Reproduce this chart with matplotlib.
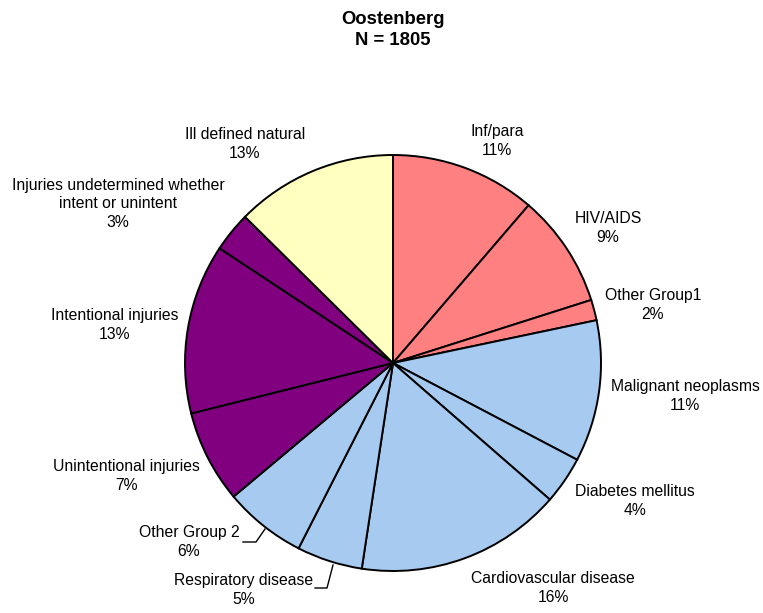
import matplotlib
matplotlib.use("Agg")
import matplotlib.pyplot as plt

title = "Oostenberg"
n_total = 1805
categories = ["Inf/para", "HIV/AIDS", "Other Group1", "Malignant neoplasms",
              "Diabetes mellitus", "Cardiovascular disease", "Respiratory disease",
              "Other Group 2", "Unintentional injuries", "Intentional injuries",
              "Injuries undetermined whether\nintent or unintent", "Ill defined natural"]
values = [11.3, 8.8, 1.6, 11.0, 3.7, 16.0, 5.1, 6.4, 7.2, 13.2, 3.1, 12.6]
colors = ["#FF8080", "#FF8080", "#FF8080", "#A6CAF0", "#A6CAF0", "#A6CAF0",
          "#A6CAF0", "#A6CAF0", "#800080", "#800080", "#800080", "#FFFFC0"]

# label anchor positions in pixel coords (x, y from top)
label_pos = [(497, 141), (608, 228), (653, 305), (685, 396), (635, 501), (553, 588),
             (244, 590), (189, 542), (126, 476), (115, 325), (118, 204), (245, 144)]

W, H = 763, 613
fig = plt.figure(figsize=(W / 100, H / 100), dpi=100)
ax = fig.add_axes([0, 0, 1, 1])

ax.pie(values, colors=colors, startangle=90, counterclock=False,
       center=(393, H - 363), radius=208, frame=True,
       wedgeprops=dict(edgecolor="black", linewidth=1.4))
ax.set_xlim(0, W)
ax.set_ylim(0, H)
ax.set_aspect("equal")
ax.axis("off")

font = "Liberation Sans"
total = sum(values)
for cat, v, (x, y) in zip(categories, values, label_pos):
    txt = f"{cat}\n{round(v / total * 100):.0f}%"
    ax.text(x, H - y, txt, ha="center", va="center", fontsize=11.3,
            family=font, linespacing=1.32, color="black")

# leader lines
ax.plot([243, 256, 265], [H - 542, H - 542, H - 529], color="black", lw=1.0)
ax.plot([315, 327, 333], [H - 588, H - 588, H - 565], color="black", lw=1.0)

ax.text(393, H - 30, f"{title}\nN = {n_total}", ha="center", va="center",
        fontsize=13.3, fontweight="bold", family=font, linespacing=1.38)

fig.savefig("out.png", dpi=100)
